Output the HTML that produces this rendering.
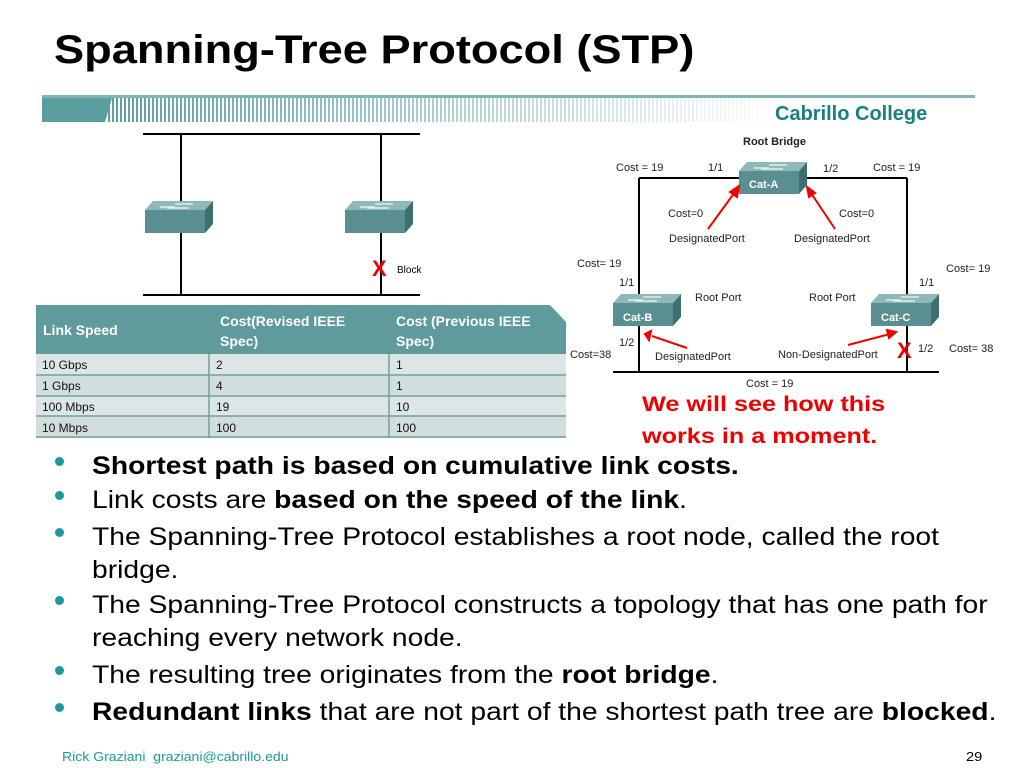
<!DOCTYPE html>
<html><head><meta charset="utf-8"><style>
body{margin:0;width:1024px;height:768px;background:#fff;position:relative;overflow:hidden;font-family:"Liberation Sans",Arial,sans-serif}
.a{position:absolute;white-space:nowrap;transform-origin:0 0;transform:scaleX(1.13)}
.title{left:54px;top:28px;font-size:40px;font-weight:bold;color:#000}
.bl{position:absolute;left:92px;font-size:25px;color:#000;line-height:33px;white-space:nowrap;transform-origin:0 0;transform:scaleX(1.13)}
.dot{position:absolute;left:55px;width:9px;height:9px;border-radius:50%;background:#1a9a9a}
.red{color:#e00;font-weight:bold;font-size:21px;transform:scaleX(1.2)}
</style></head><body>
<div class="a title">Spanning-Tree Protocol (STP)</div>
<svg width="1024" height="768" style="position:absolute;left:0;top:0">
<defs>
<linearGradient id="fade" x1="0" x2="1"><stop offset="0" stop-color="#fff"/><stop offset="1" stop-color="#fff" stop-opacity="0"/></linearGradient>
<pattern id="st" width="4" height="10" patternUnits="userSpaceOnUse"><rect width="2" height="10" fill="#5a9ea0"/></pattern>
<mask id="mk"><rect x="100" y="95" width="680" height="28" fill="url(#fade)"/></mask>
<g id="sw">
<polygon points="0,11 60,11 68,2 8,2" fill="#8fb8b9"/>
<polygon points="60,11 68,2 68,25 60,34" fill="#3d6e70"/>
<rect x="0" y="11" width="60" height="23" fill="#5a8f91"/>
<line x1="15" y1="8" x2="30" y2="8" stroke="#dfeeee" stroke-width="1.5"/>
<line x1="30" y1="5" x2="48" y2="5" stroke="#dfeeee" stroke-width="1.5"/>
<line x1="22" y1="9" x2="44" y2="9" stroke="#dfeeee" stroke-width="1.5"/>
</g>
</defs>
<rect x="42" y="95" width="933" height="3" fill="#7fb5b6"/>
<polygon points="42,98 112,98 105,122 42,122" fill="#5a9ea0"/>
<rect x="106" y="98" width="680" height="24" fill="url(#st)" mask="url(#mk)"/>
<text x="775" y="120" font-size="20" font-weight="bold" fill="#1a7f80" font-family="Liberation Sans,Arial">Cabrillo College</text>
<g stroke="#000" stroke-width="2">
<line x1="143" y1="134" x2="420" y2="134"/><line x1="143" y1="295" x2="420" y2="295"/>
<line x1="181" y1="134" x2="181" y2="295"/><line x1="381" y1="134" x2="381" y2="295"/>
</g>
<use href="#sw" x="145" y="199"/><use href="#sw" x="345" y="199"/>
<text x="372" y="276" font-size="22" font-weight="bold" fill="#e00">X</text>
<text x="397" y="273" font-size="10" fill="#000">Block</text>
<polygon points="36,305 550,305 566,322 566,354 36,354" fill="#5f9a9c"/>
<rect x="36" y="354" width="530" height="84" fill="#dce6e6"/>
<rect x="36" y="375" width="530" height="21" fill="#d2dede"/>
<rect x="36" y="416" width="530" height="22" fill="#d2dede"/>
<g stroke="#6fa0a2" stroke-width="1.5">
<line x1="36" y1="375" x2="566" y2="375"/><line x1="36" y1="396" x2="566" y2="396"/><line x1="36" y1="416" x2="566" y2="416"/><line x1="36" y1="437" x2="566" y2="437"/>
<line x1="209" y1="354" x2="209" y2="438"/><line x1="389" y1="354" x2="389" y2="438"/>
</g>
<g font-size="14" font-weight="bold" fill="#fff">
<text x="43" y="335">Link Speed</text>
<text x="220" y="326">Cost(Revised IEEE</text><text x="220" y="346">Spec)</text>
<text x="396" y="326">Cost (Previous IEEE</text><text x="396" y="346">Spec)</text>
</g>
<g font-size="12" fill="#111">
<text x="42" y="369">10 Gbps</text><text x="216" y="369">2</text><text x="396" y="369">1</text>
<text x="42" y="390">1 Gbps</text><text x="216" y="390">4</text><text x="396" y="390">1</text>
<text x="42" y="411">100 Mbps</text><text x="216" y="411">19</text><text x="396" y="411">10</text>
<text x="42" y="432">10 Mbps</text><text x="216" y="432">100</text><text x="396" y="432">100</text>
</g>
<g stroke="#000" stroke-width="2">
<line x1="639" y1="178" x2="907" y2="178"/>
<line x1="639" y1="178" x2="639" y2="372"/><line x1="907" y1="178" x2="907" y2="372"/>
<line x1="613" y1="372" x2="939" y2="372"/>
</g>
<use href="#sw" x="739" y="160"/><use href="#sw" x="613" y="292"/><use href="#sw" x="871" y="292"/>
<g font-size="11" font-weight="bold" fill="#fff"><text x="749" y="188">Cat-A</text><text x="623" y="321">Cat-B</text><text x="881" y="321">Cat-C</text></g>
<g stroke="#e00" stroke-width="2" fill="#e00">
<line x1="708" y1="229" x2="735" y2="192"/><polygon points="739,186 730,192 737,197"/>
<line x1="835" y1="229" x2="811" y2="193"/><polygon points="807,187 809,197 815,193"/>
<line x1="687" y1="348" x2="652" y2="336"/><polygon points="645,334 651,331 649,340"/>
<line x1="848" y1="345" x2="890" y2="334"/><polygon points="896,332 887,330 889,338"/>
</g>
<text x="897" y="358" font-size="22" font-weight="bold" fill="#e00">X</text>
<g font-size="11" fill="#222">
<text x="743" y="145" font-weight="bold">Root Bridge</text>
<text x="616" y="171">Cost = 19</text><text x="708" y="171">1/1</text>
<text x="823" y="172">1/2</text><text x="873" y="171">Cost = 19</text>
<text x="668" y="217">Cost=0</text><text x="839" y="217">Cost=0</text>
<text x="669" y="242">DesignatedPort</text><text x="794" y="242">DesignatedPort</text>
<text x="577" y="267">Cost= 19</text><text x="946" y="272">Cost= 19</text>
<text x="619" y="286">1/1</text><text x="919" y="286">1/1</text>
<text x="695" y="301">Root Port</text><text x="809" y="301">Root Port</text>
<text x="619" y="346">1/2</text><text x="570" y="358">Cost=38</text>
<text x="655" y="360">DesignatedPort</text><text x="778" y="358">Non-DesignatedPort</text>
<text x="918" y="352">1/2</text><text x="949" y="352">Cost= 38</text>
<text x="746" y="387">Cost = 19</text>
</g>
</svg>
<div class="a red" style="left:642px;top:393px">We will see how this</div>
<div class="a red" style="left:642px;top:425px">works in a moment.</div>
<div class="dot" style="top:457px"></div><div class="bl" style="top:450px"><b>Shortest path is based on cumulative link costs.</b></div>
<div class="dot" style="top:491px"></div><div class="bl" style="top:484px">Link costs are <b>based on the speed of the link</b>.</div>
<div class="dot" style="top:528px"></div><div class="bl" style="top:521px">The Spanning-Tree Protocol establishes a root node, called the root<br>bridge.</div>
<div class="dot" style="top:596px"></div><div class="bl" style="top:589px">The Spanning-Tree Protocol constructs a topology that has one path for<br>reaching every network node.</div>
<div class="dot" style="top:666px"></div><div class="bl" style="top:659px">The resulting tree originates from the <b>root bridge</b>.</div>
<div class="dot" style="top:703px"></div><div class="bl" style="top:696px"><b>Redundant links</b> that are not part of the shortest path tree are <b>blocked</b>.</div>
<div class="a" style="left:62px;top:749px;font-size:13px;color:#1a9a9a;transform:scaleX(1.08)">Rick Graziani&nbsp; graziani@cabrillo.edu</div>
<div class="a" style="left:966px;top:749px;font-size:13px;color:#000">29</div>
</body></html>
